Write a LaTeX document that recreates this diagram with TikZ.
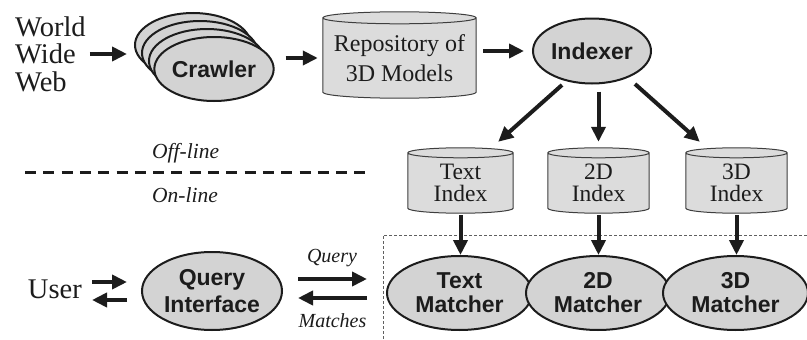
\documentclass[tikz,border=0pt]{standalone}
\usepackage{fontspec}
\setmainfont{Liberation Serif}
\setsansfont{Liberation Sans}
\usetikzlibrary{shapes.geometric,arrows.meta,calc,backgrounds}
\definecolor{fillg}{RGB}{211,211,211}
\definecolor{cylg}{RGB}{220,220,220}
\definecolor{ink}{RGB}{28,28,28}
\tikzset{
  ell/.style={ellipse, draw=ink, line width=2pt, fill=fillg, inner sep=0pt,
    font=\sffamily\bfseries\fontsize{23}{24}\selectfont, text=ink, align=center},
  cylnode/.style={inner sep=0pt, font=\fontsize{23.5}{22}\selectfont, align=center, text=ink},
  cylline/.style={draw=ink!85, line width=1pt, fill=cylg},
  arr/.style={line width=4pt, draw=ink, -{Triangle[length=15pt,width=14pt]}},
  lbl/.style={font=\itshape\fontsize{20}{20}\selectfont, text=ink, inner sep=0pt},
  plain/.style={font=\fontsize{28.5}{27.5}\selectfont, text=ink, inner sep=0pt, align=left},
  sepline/.style={line width=3pt, draw=ink, dash pattern=on 11pt off 7.3pt},
  boxline/.style={line width=1pt, draw=ink!70, dash pattern=on 3pt off 2pt},
}
\newcommand\cylshape[2]{%
  \begin{pgfonlayer}{background}
  \path[cylline] let \p1=(#1.north west), \p2=(#1.south east), \n1={(\x2-\x1)/2} in
    (\x1,\y1) -- (\x1,{\y2+#2pt})
    arc[start angle=180,end angle=360,x radius=\n1,y radius=#2pt]
    -- (\x2,\y1)
    arc[start angle=0,end angle=180,x radius=\n1,y radius=#2pt] -- cycle
    (\x1,\y1) arc[start angle=180,end angle=360,x radius=\n1,y radius=#2pt];
  \end{pgfonlayer}}
\begin{document}
\begin{tikzpicture}[x=1pt,y=-1pt]
\useasboundingbox (0,0) rectangle (807,340);

% World Wide Web
\node[plain, anchor=west] (www) at (15,54) {World\\Wide\\Web};

% Crawler stack
\node[ell, minimum width=116, minimum height=64] (cra) at (193,45) {};
\node[ell, minimum width=116, minimum height=64] (crb) at (200,53) {};
\node[ell, minimum width=116, minimum height=64] (crc) at (207,61) {};
\node[ell, minimum width=116, minimum height=64] (crawler) at (214,69) {Crawler};

% Repository
\node[cylnode, font=\fontsize{24}{29.5}\selectfont, minimum width=153, minimum height=80] (repo) at (399.5,58) {Repository of\\3D Models};
\cylshape{repo}{6}

% Indexer
\node[ell, minimum width=118, minimum height=65] (idx) at (592,51) {Indexer};

% Indexes
\node[cylnode, minimum width=105, minimum height=60] (ti) at (460.5,183) {Text\\Index};
\node[cylnode, minimum width=101, minimum height=60] (tdi) at (598.5,183) {2D\\Index};
\node[cylnode, minimum width=101, minimum height=60] (thi) at (736.5,183) {3D\\Index};
\cylshape{ti}{5}
\cylshape{tdi}{5}
\cylshape{thi}{5}

% Matchers
\node[ell, minimum width=145, minimum height=74] (tm) at (459.5,293) {Text\\Matcher};
\node[ell, minimum width=144, minimum height=74] (dm) at (598,293) {2D\\Matcher};
\node[ell, minimum width=145, minimum height=74] (hm) at (735.5,293) {3D\\Matcher};

% Query interface and user
\node[ell, font=\sffamily\bfseries\fontsize{23}{27}\selectfont, minimum width=140, minimum height=78] (qi) at (212,291) {Query\\Interface};
\node[plain, anchor=east] (user) at (82,289) {User};

% separator
\coordinate (dl) at (25,172);
\coordinate (dr) at (372,172);
\draw[sepline] (dl) -- (dr);
\node[lbl, font=\itshape\fontsize{21.5}{21.5}\selectfont, anchor=base west] (off) at (152,158) {Off-line};
\node[lbl, font=\itshape\fontsize{21.5}{21.5}\selectfont, anchor=base west] (on) at (152,202) {On-line};

% dashed box
\draw[boxline] (807,235) -- (383,235) -- (383,340);

% top arrows
\draw[arr, shorten <=4pt, shorten >=7pt] (www.east) -- (www.east -| cra.west);
\draw[arr, shorten <=11pt, shorten >=5pt] (crawler.east |- repo.west) -- (repo.west);
\draw[arr, shorten <=7pt, shorten >=8pt] (repo.east |- idx.west) -- (idx.west);

% indexer to indexes
\draw[arr] ([shift={(-30,34)}]idx.center) -- ([shift={(-15,-11)}]ti.north east);
\draw[arr, shorten <=7pt, shorten >=11pt] (tdi.north |- idx.south) -- (tdi.north);
\draw[arr] ([shift={(43,33)}]idx.center) -- ([shift={(14,-11)}]thi.north west);

% indexes to matchers
\draw[arr, shorten <=2pt] (ti.south) -- (ti.south |- tm.north);
\draw[arr, shorten <=2pt] (tdi.south) -- (tdi.south |- dm.north);
\draw[arr, shorten <=2pt] (thi.south) -- (thi.south |- hm.north);

% user arrows
\coordinate (u1) at ([shift={(10,-7)}]user.east);
\coordinate (u2) at ([shift={(10,11)}]user.east);
\draw[arr, shorten >=14pt] (u1) -- (u1 -| qi.west);
\draw[arr, shorten <=14pt] (u2 -| qi.west) -- (u2);

% query / matches arrows
\coordinate (q1) at ([shift={(15,-12)}]qi.east);
\coordinate (q2) at ([shift={(15,7)}]qi.east);
\draw[arr, shorten >=19pt] (q1) -- (q1 -| tm.west);
\draw[arr, shorten <=19pt] (q2 -| tm.west) -- (q2);
\node[lbl, anchor=base] (qlab) at (332,262) {Query};
\node[lbl, anchor=base] (mlab) at (332.5,327) {Matches};
\end{tikzpicture}
\end{document}
